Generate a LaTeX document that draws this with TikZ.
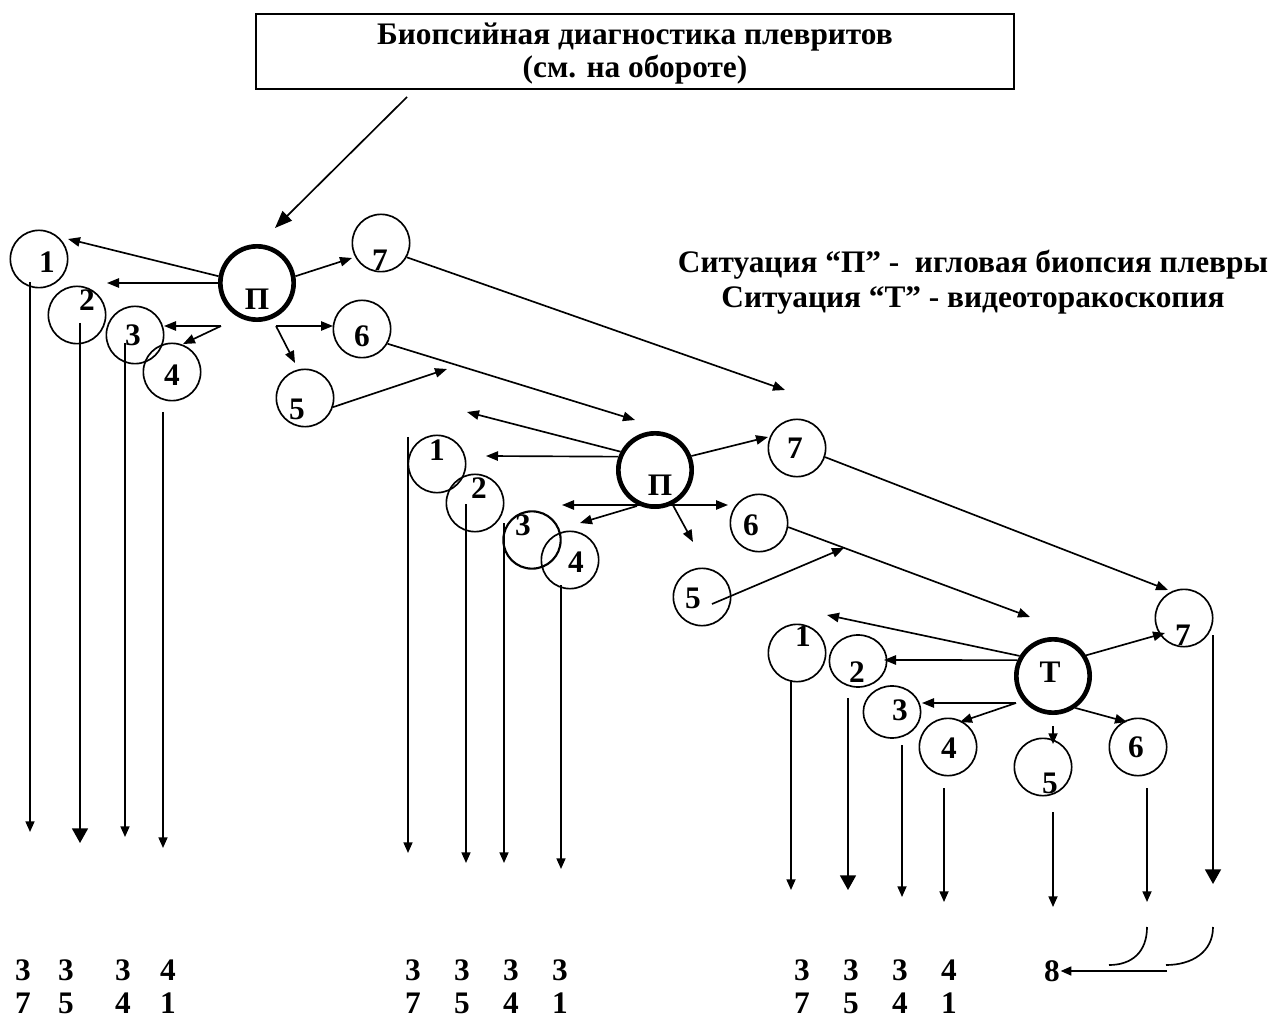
\documentclass[tikz,border=0pt]{standalone}
\usepackage{fontspec}
\setmainfont{Liberation Serif}
\usetikzlibrary{arrows.meta,shapes.geometric}
\begin{document}
\begin{tikzpicture}[x=0.75pt,y=-0.75pt,line width=1.25pt,
  ring/.style={circle,draw,line width=1.25pt,minimum size=43pt,inner sep=0pt},
  oval/.style={ellipse,draw,line width=1.25pt,minimum width=43pt,minimum height=39pt,inner sep=0pt},
  hub/.style={circle,draw,line width=3.5pt,minimum size=55pt,inner sep=0pt},
  lbl/.style={font=\fontsize{23.5}{26}\selectfont\bfseries,inner sep=0pt},
  txt/.style={font=\fontsize{23.5}{26}\selectfont\bfseries,inner sep=0pt,anchor=base},
  arr/.style={-{Triangle[length=9pt,width=7pt]}},
  darr/.style={{Triangle[length=9pt,width=7pt]}-{Triangle[length=9pt,width=7pt]}},
  varr/.style={-{Triangle[length=8pt,width=6.75pt]}},
  bigarr/.style={-{Triangle[length=11pt,width=12pt]}},
  headarr/.style={-{Triangle[length=13pt,width=10pt]}}]
\path[use as bounding box] (0,0) rectangle (1281,1019);

% title box
\node[draw,line width=2.2pt,minimum width=568.5pt,minimum height=56.25pt,inner sep=0pt] (tbox) at (635,51.5) {};
\node[txt] (title1) at (635,45) {Биопсийная диагностика плевритов};
\node[txt] (title2) at (635,78) {(см. на обороте)};
\coordinate (tstart) at (407,97);
\coordinate (tend) at (275,228);
\draw[headarr] (tstart) -- (tend);

% legend
\node[txt] (leg1) at (973,273) {Ситуация “П” -~ игловая биопсия плевры};
\node[txt] (leg2) at (973,308) {Ситуация “Т” - видеоторакоскопия};

% ---------- first needle biopsy ----------
\node[hub] (p1) at (257,283) {};
\node[lbl] (p1t) at (257,299) {П};
\node[ring] (a1) at (39,259) {};  \node[lbl] (a1t) at (47,262) {1};
\node[ring] (a2) at (77,315) {};  \node[lbl] (a2t) at (87,300) {2};
\node[ring] (a3) at (135,335) {}; \node[lbl] (a3t) at (133,335) {3};
\node[ring] (a4) at (172,372) {}; \node[lbl] (a4t) at (172,375) {4};
\node[ring] (a5) at (305,398) {}; \node[lbl] (a5t) at (297,409) {5};
\node[ring] (a6) at (362,329) {}; \node[lbl] (a6t) at (362,336) {6};
\node[ring] (a7) at (381,243) {}; \node[lbl] (a7t) at (380,260) {7};

\coordinate (a1e) at (68,239);
\coordinate (a2e) at (107,283);
\coordinate (a34s) at (221,326);
\coordinate (a3e) at (164,326);
\coordinate (a4e) at (183,344);
\coordinate (a56s) at (276,326);
\coordinate (a6e) at (333,326);
\coordinate (a5e) at (295,363);
\coordinate (a7e) at (352,258);
\draw[arr] (p1.170) -- (a1e);
\draw[arr] (p1.west) -- (a2e);
\draw[arr] (a34s) -- (a3e);
\draw[arr] (a34s) -- (a4e);
\draw[arr] (a56s) -- (a6e);
\draw[arr] (a56s) -- (a5e);
\draw[arr] (p1.10) -- (a7e);

% transitions to the second biopsy
\coordinate (x7e) at (785,390);
\coordinate (x6e) at (635,420);
\coordinate (x5e) at (447,369);
\draw[arr] (a7.-29) -- (x7e);
\draw[arr] (a6.-30) -- (x6e);
\draw[arr] (a5.-18) -- (x5e);

% outcome lines of the first biopsy
\coordinate (v1s) at (30,282);  \coordinate (v1e) at (30,832);
\coordinate (v2s) at (80,323);  \coordinate (v2e) at (80,843);
\coordinate (v3s) at (125,343); \coordinate (v3e) at (125,837);
\coordinate (v4s) at (163,412); \coordinate (v4e) at (163,848);
\draw[varr] (v1s) -- (v1e);
\draw[bigarr] (v2s) -- (v2e);
\draw[varr] (v3s) -- (v3e);
\draw[varr] (v4s) -- (v4e);

% ---------- second needle biopsy ----------
\node[hub] (p2) at (655,470) {};
\node[lbl] (p2t) at (660,485) {П};
\node[ring] (b1) at (437,464) {}; \node[lbl] (b1t) at (437,450) {1};
\node[ring] (b2) at (475,503) {}; \node[lbl] (b2t) at (479,488) {2};
\node[ring,line width=1.6pt] (b3) at (532,540) {}; \node[lbl] (b3t) at (523,525) {3};
\node[ring] (b4) at (570,560) {}; \node[lbl] (b4t) at (576,562) {4};
\node[ring] (b5) at (702,597) {}; \node[lbl] (b5t) at (693,598) {5};
\node[ring] (b6) at (759,523) {}; \node[lbl] (b6t) at (751,525) {6};
\node[ring] (b7) at (797,448) {}; \node[lbl] (b7t) at (795,448) {7};

\coordinate (b1e) at (467,412);
\coordinate (b2e) at (486,456);
\coordinate (b3e) at (562,505);
\coordinate (b6e) at (728,505);
\coordinate (b4s) at (637,506);
\coordinate (b4e) at (580,523);
\coordinate (b5e) at (693,542);
\coordinate (b7e) at (768,437);
\draw[arr] (p2.152) -- (b1e);
\draw[arr] (p2.160) -- (b2e);
\draw[darr] (b3e) -- (b6e);
\draw[arr] (b4s) -- (b4e);
\draw[arr] (p2.-63) -- (b5e);
\draw[arr] (p2.21) -- (b7e);

% transitions to thoracoscopy
\coordinate (y7e) at (1168,590);
\coordinate (y6e) at (1030,617);
\coordinate (y5s) at (712,604);
\coordinate (y5e) at (844,548);
\draw[arr] (b7.-18) -- (y7e);
\draw[arr] (b6.-8) -- (y6e);
\draw[arr] (y5s) -- (y5e);

% outcome lines of the second biopsy
\coordinate (w1s) at (408,437); \coordinate (w1e) at (408,853);
\coordinate (w2s) at (466,504); \coordinate (w2e) at (466,863);
\coordinate (w3s) at (504,523); \coordinate (w3e) at (504,863);
\coordinate (w4s) at (561,585); \coordinate (w4e) at (561,869);
\draw[varr] (w1s) -- (w1e);
\draw[varr] (w2s) -- (w2e);
\draw[varr] (w3s) -- (w3e);
\draw[varr] (w4s) -- (w4e);

% ---------- video thoracoscopy ----------
\node[hub] (t0) at (1053,676) {};
\node[lbl] (t0t) at (1050,672) {Т};
\node[ring] (c1) at (797,653) {}; \node[lbl] (c1t) at (803,636) {1};
\node[oval] (c2) at (858,661) {}; \node[lbl] (c2t) at (857,672) {2};
\node[oval] (c3) at (892,712) {}; \node[lbl] (c3t) at (900,710) {3};
\node[ring] (c4) at (948,747) {}; \node[lbl] (c4t) at (949,748) {4};
\node[ring] (c5) at (1043,767) {}; \node[lbl] (c5t) at (1050,783) {5};
\node[ring] (c6) at (1138,747) {}; \node[lbl] (c6t) at (1136,747) {6};
\node[ring] (c7) at (1184,618) {}; \node[lbl] (c7t) at (1183,635) {7};

\coordinate (c1e) at (827,615);
\coordinate (c2e) at (884,660);
\coordinate (c34s) at (1016,703);
\coordinate (c3e) at (922,703);
\coordinate (c4e) at (960,722);
\coordinate (c5s) at (1053,726);
\coordinate (c5e) at (1053,744);
\coordinate (c6e) at (1127,722);
\coordinate (c7e) at (1165,633);
\draw[arr] (t0.149) -- (c1e);
\draw[arr] (t0.156) -- (c2e);
\draw[arr] (c34s) -- (c3e);
\draw[arr] (c34s) -- (c4e);
\draw[varr] (c5s) -- (c5e);
\draw[arr] (t0.-55) -- (c6e);
\draw[arr] (t0.32) -- (c7e);

% outcome lines of thoracoscopy
\coordinate (u1s) at (791,680);  \coordinate (u1e) at (791,890);
\coordinate (u2s) at (848,698);  \coordinate (u2e) at (848,890);
\coordinate (u3s) at (902,745);  \coordinate (u3e) at (902,897);
\coordinate (u4s) at (944,788);  \coordinate (u4e) at (944,902);
\coordinate (u5s) at (1053,812); \coordinate (u5e) at (1053,907);
\coordinate (u6s) at (1147,788); \coordinate (u6e) at (1147,902);
\coordinate (u7s) at (1213,635); \coordinate (u7e) at (1213,884);
\draw[varr] (u1s) -- (u1e);
\draw[bigarr] (u2s) -- (u2e);
\draw[varr] (u3s) -- (u3e);
\draw[varr] (u4s) -- (u4e);
\draw[varr] (u5s) -- (u5e);
\draw[varr] (u6s) -- (u6e);
\draw[bigarr] (u7s) -- (u7e);

% merging of outcomes 6 and 7 into 8
\node[lbl] (n8) at (1052,971) {8};
\coordinate (k6s) at (1147,927); \coordinate (k6e) at (1109,965);
\coordinate (k7s) at (1213,927); \coordinate (k7e) at (1166,965);
\coordinate (k8s) at (1167,971);
\draw (k6s) .. controls (1147,952) and (1132,965) .. (k6e);
\draw (k7s) .. controls (1213,952) and (1192,965) .. (k7e);
\draw[varr] (k8s) -- (n8.east);

% outcome codes
\foreach \nm/\x/\r/\s in {
  g1a/23/3/7, g1b/66/3/5, g1c/123/3/4, g1d/168/4/1,
  g2a/413/3/7, g2b/462/3/5, g2c/511/3/4, g2d/560/3/1,
  g3a/802/3/7, g3b/851/3/5, g3c/900/3/4, g3d/949/4/1}{
  \node[lbl] (\nm top) at (\x,970) {\r};
  \node[lbl] (\nm bot) at (\x,1003) {\s};
}
\end{tikzpicture}
\end{document}
